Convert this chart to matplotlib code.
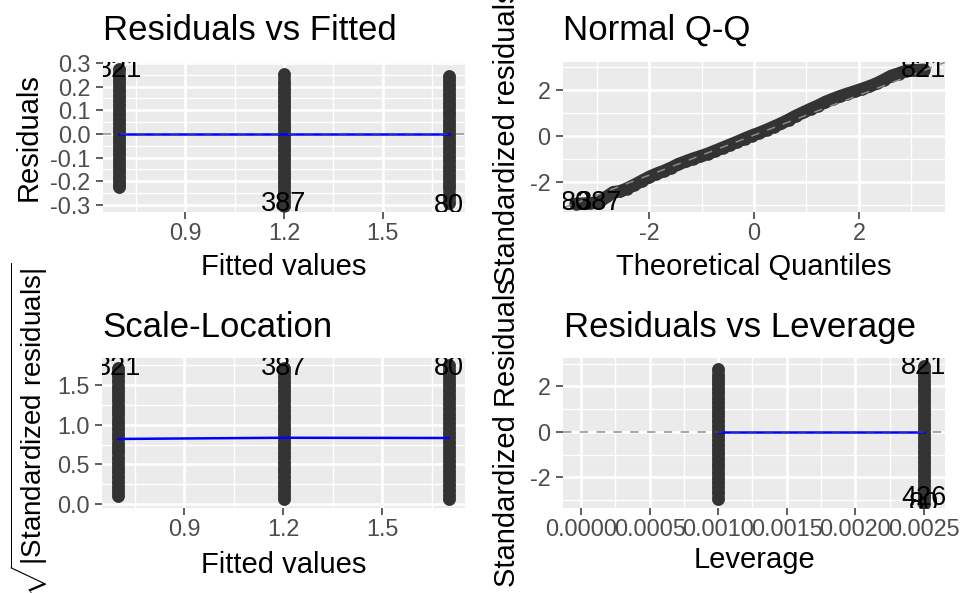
import matplotlib
matplotlib.use('Agg')
import matplotlib.pyplot as plt
from matplotlib.ticker import MultipleLocator, FormatStrFormatter, FuncFormatter

plt.rcParams['font.family'] = ['Liberation Sans', 'DejaVu Sans']
plt.rcParams['axes.unicode_minus'] = False
plt.rcParams['mathtext.fontset'] = 'custom'
plt.rcParams['mathtext.rm'] = 'Liberation Sans'
plt.rcParams['mathtext.it'] = 'Liberation Sans:italic'
plt.rcParams['mathtext.bf'] = 'Liberation Sans:bold'

# ---------------- data ----------------
fitted_levels = [0.7, 1.2, 1.7]
resid_fit_07 = [0.275, 0.236, 0.218, 0.199, 0.181, 0.160, 0.142, 0.121, 0.103, 0.084,
                0.064, 0.046, 0.027, 0.008, -0.011, -0.030, -0.049, -0.067, -0.086,
                -0.105, -0.124, -0.142, -0.161, -0.180, -0.198, -0.214, -0.226]
resid_fit_12 = [0.253, 0.215, 0.196, 0.177, 0.158, 0.139, 0.120, 0.101, 0.082, 0.063,
                0.044, 0.025, 0.006, -0.013, -0.032, -0.051, -0.070, -0.089, -0.108,
                -0.127, -0.146, -0.165, -0.184, -0.203, -0.222, -0.241, -0.262, -0.284, -0.305]
resid_fit_17 = [0.245, 0.226, 0.207, 0.188, 0.169, 0.150, 0.131, 0.112, 0.093, 0.074,
                0.055, 0.036, 0.017, -0.002, -0.021, -0.040, -0.059, -0.078, -0.097,
                -0.116, -0.135, -0.154, -0.173, -0.192, -0.210, -0.225, -0.262, -0.290]
resid_smooth = [0.0, 0.0, 0.0]
resid_label_text = ['821', '387', '80']
resid_label_y = [0.272, -0.298, -0.304]

qq_theoretical = [-3.40, -3.12, -2.95, -2.80, -2.68, -2.55, -2.42, -2.28, -2.14, -2.00,
                  -1.86, -1.72, -1.58, -1.44, -1.30, -1.16, -1.02, -0.88, -0.74, -0.60,
                  -0.46, -0.32, -0.18, -0.04, 0.10, 0.24, 0.38, 0.52, 0.66, 0.80,
                  0.94, 1.08, 1.22, 1.36, 1.50, 1.64, 1.78, 1.92, 2.06, 2.20,
                  2.34, 2.48, 2.62, 2.76, 2.90, 3.05, 3.24]
qq_standardized = [-2.95, -2.92, -2.88, -2.62, -2.44, -2.40, -2.28, -2.12, -1.95, -1.78,
                   -1.64, -1.52, -1.38, -1.22, -1.10, -0.98, -0.88, -0.77, -0.64, -0.51,
                   -0.38, -0.25, -0.11, 0.02, 0.14, 0.27, 0.41, 0.55, 0.71, 0.88,
                   1.03, 1.18, 1.32, 1.48, 1.61, 1.73, 1.84, 1.94, 2.05, 2.16,
                   2.29, 2.45, 2.62, 2.72, 2.84, 2.86, 2.88]
qq_line_intercept = 0.04
qq_line_slope = 0.87
qq_label_text = ['821', '80', '387']
qq_label_x = [3.24, -3.40, -2.95]
qq_label_y = [2.86, -2.93, -2.93]

sl_fit_07 = [1.72, 1.66, 1.61, 1.55, 1.48, 1.43, 1.36, 1.31, 1.24, 1.18, 1.13, 1.06,
             1.01, 0.94, 0.88, 0.83, 0.76, 0.70, 0.65, 0.58, 0.52, 0.46, 0.40, 0.34,
             0.28, 0.22, 0.16, 0.10]
sl_fit_12 = [1.72, 1.66, 1.60, 1.54, 1.49, 1.42, 1.36, 1.31, 1.24, 1.18, 1.12, 1.07,
             1.00, 0.94, 0.89, 0.82, 0.76, 0.70, 0.64, 0.59, 0.52, 0.46, 0.41, 0.34,
             0.28, 0.23, 0.17, 0.11, 0.06]
sl_fit_17 = [1.75, 1.68, 1.62, 1.56, 1.50, 1.44, 1.38, 1.32, 1.26, 1.20, 1.14, 1.08,
             1.02, 0.96, 0.90, 0.84, 0.78, 0.72, 0.66, 0.60, 0.54, 0.48, 0.42, 0.36,
             0.30, 0.24, 0.18, 0.12, 0.06]
sl_smooth = [0.82, 0.835, 0.832]
sl_label_text = ['821', '387', '80']
sl_label_y = [1.71, 1.71, 1.72]

leverage_levels = [0.001, 0.0025]
sr_lev_0010 = [2.77, 2.48, 2.30, 2.10, 1.91, 1.71, 1.50, 1.30, 1.09, 0.88, 0.68, 0.47,
               0.27, 0.06, -0.15, -0.35, -0.56, -0.77, -0.97, -1.18, -1.39, -1.59,
               -1.80, -2.01, -2.21, -2.42, -2.62, -2.95]
sr_lev_0025 = [2.88, 2.68, 2.47, 2.26, 2.05, 1.84, 1.63, 1.42, 1.21, 1.00, 0.79, 0.58,
               0.37, 0.16, -0.05, -0.26, -0.47, -0.68, -0.89, -1.10, -1.31, -1.52,
               -1.73, -1.94, -2.15, -2.36, -2.57, -2.78, -2.90, -3.15]
lev_smooth = [0.0, 0.0]
lev_label_text = ['821', '426', '80']
lev_label_y = [2.86, -2.88, -3.18]

# ---------------- figure ----------------
W, H = 960, 593
fig = plt.figure(figsize=(W / 100, H / 100), dpi=100)

def box(l, t, r, b):
    return [l / W, 1 - b / H, (r - l) / W, (b - t) / H]

PT_COL = '#333333'
PT_D = 9.0          # point diameter in pt
LAB_FS = 19.5

def points(ax, xs, ys):
    ax.plot(xs, ys, color=PT_COL, lw=PT_D, marker='o', ms=PT_D, mew=0,
            solid_capstyle='round', solid_joinstyle='round', zorder=3)

def style(ax, xlim, ylim, xmaj, xmin, ymaj, ymin, xfmt, yfmt):
    ax.set_facecolor('#EBEBEB')
    for s in ax.spines.values():
        s.set_visible(False)
    ax.set_xlim(xlim)
    ax.set_ylim(ylim)
    ax.xaxis.set_major_locator(MultipleLocator(xmaj))
    ax.xaxis.set_minor_locator(MultipleLocator(xmin))
    ax.yaxis.set_major_locator(MultipleLocator(ymaj))
    ax.yaxis.set_minor_locator(MultipleLocator(ymin))
    ax.xaxis.set_major_formatter(xfmt)
    ax.yaxis.set_major_formatter(yfmt)
    ax.grid(which='major', color='white', lw=1.9)
    ax.grid(which='minor', color='white', lw=1.0)
    ax.set_axisbelow(True)
    ax.tick_params(which='major', length=5, width=1.1, color='#333333',
                   labelsize=16.8, labelcolor='#4D4D4D')
    ax.tick_params(which='minor', length=0)
    ax.tick_params(axis='x', pad=2.5)
    ax.tick_params(axis='y', pad=4)

gfmt = FuncFormatter(lambda v, p: f'{v:g}')

def zero_dash(ax):
    ax.axhline(0, color='#555555', alpha=0.65, lw=1.1, dashes=(5.5, 5.5), zorder=4)

# Panel 1: Residuals vs Fitted
ax1 = fig.add_axes(box(103, 62, 465, 212))
style(ax1, (0.65, 1.75), (-0.33, 0.304), 0.3, 0.15, 0.1, 0.05,
      FormatStrFormatter('%.1f'), FormatStrFormatter('%.1f'))
for xv, vals in zip(fitted_levels, [resid_fit_07, resid_fit_12, resid_fit_17]):
    points(ax1, [xv] * len(vals), vals)
ax1.plot(fitted_levels, resid_smooth, color='blue', lw=1.8, zorder=4)
zero_dash(ax1)
for t, xv, yv in zip(resid_label_text, fitted_levels, resid_label_y):
    ax1.text(xv, yv, t, ha='center', va='center', fontsize=LAB_FS, clip_on=True, zorder=5)

# Panel 2: Normal Q-Q
ax2 = fig.add_axes(box(563, 62, 945, 212))
style(ax2, (-3.64, 3.64), (-3.30, 3.22), 2, 1, 2, 1, gfmt, gfmt)
points(ax2, qq_theoretical, qq_standardized)
ax2.axline((0, qq_line_intercept), slope=qq_line_slope, color='#8A8A8A', lw=1.1,
           dashes=(5.5, 5.5), zorder=4)
for t, xv, yv in zip(qq_label_text, qq_label_x, qq_label_y):
    ax2.text(xv, yv, t, ha='center', va='center', fontsize=LAB_FS, clip_on=True, zorder=5)

# Panel 3: Scale-Location
ax3 = fig.add_axes(box(102, 358, 465, 508))
style(ax3, (0.65, 1.75), (-0.05, 1.84), 0.3, 0.15, 0.5, 0.25,
      FormatStrFormatter('%.1f'), FormatStrFormatter('%.1f'))
for xv, vals in zip(fitted_levels, [sl_fit_07, sl_fit_12, sl_fit_17]):
    points(ax3, [xv] * len(vals), vals)
ax3.plot(fitted_levels, sl_smooth, color='blue', lw=1.8, zorder=4)
for t, xv, yv in zip(sl_label_text, fitted_levels, sl_label_y):
    ax3.text(xv, yv, t, ha='center', va='center', fontsize=LAB_FS, clip_on=True, zorder=5)

# Panel 4: Residuals vs Leverage
ax4 = fig.add_axes(box(563, 358, 945, 508))
style(ax4, (-0.000131, 0.002653), (-3.34, 3.25), 0.0005, 0.00025, 2, 1,
      FormatStrFormatter('%.4f'), gfmt)
for xv, vals in zip(leverage_levels, [sr_lev_0010, sr_lev_0025]):
    points(ax4, [xv] * len(vals), vals)
ax4.plot(leverage_levels, lev_smooth, color='blue', lw=1.8, zorder=4)
zero_dash(ax4)
for t, yv in zip(lev_label_text, lev_label_y):
    ax4.text(leverage_levels[1], yv, t, ha='center', va='center', fontsize=LAB_FS,
             clip_on=True, zorder=5)

# ---------------- texts ----------------
def ftext(x, y, s, **kw):
    fig.text(x / W, 1 - y / H, s, **kw)

TFS = 25
ftext(103, 40, 'Residuals vs Fitted', fontsize=TFS, ha='left', va='baseline')
ftext(563, 40, 'Normal Q-Q', fontsize=TFS, ha='left', va='baseline')
ftext(102, 337, 'Scale-Location', fontsize=TFS, ha='left', va='baseline')
ftext(564, 337, 'Residuals vs Leverage', fontsize=TFS, ha='left', va='baseline')

AFS = 21
ftext(284, 275, 'Fitted values', fontsize=AFS, ha='center', va='baseline')
ftext(754, 275, 'Theoretical Quantiles', fontsize=AFS, ha='center', va='baseline')
ftext(284, 573, 'Fitted values', fontsize=AFS, ha='center', va='baseline')
ftext(754, 568, 'Leverage', fontsize=AFS, ha='center', va='baseline')

ftext(37, 137, 'Residuals', fontsize=AFS, rotation=90, rotation_mode='anchor',
      ha='center', va='baseline')
ftext(515, 137, 'Standardized residuals', fontsize=AFS, rotation=90, rotation_mode='anchor',
      ha='center', va='baseline')
ftext(42, 430, r'$\sqrt{|\mathrm{Standardized\ residuals}|}$', fontsize=20, rotation=90,
      rotation_mode='anchor', ha='center', va='baseline')
ftext(515, 433, 'Standardized Residuals', fontsize=AFS, rotation=90, rotation_mode='anchor',
      ha='center', va='baseline')

fig.savefig('out.png', dpi=100)
